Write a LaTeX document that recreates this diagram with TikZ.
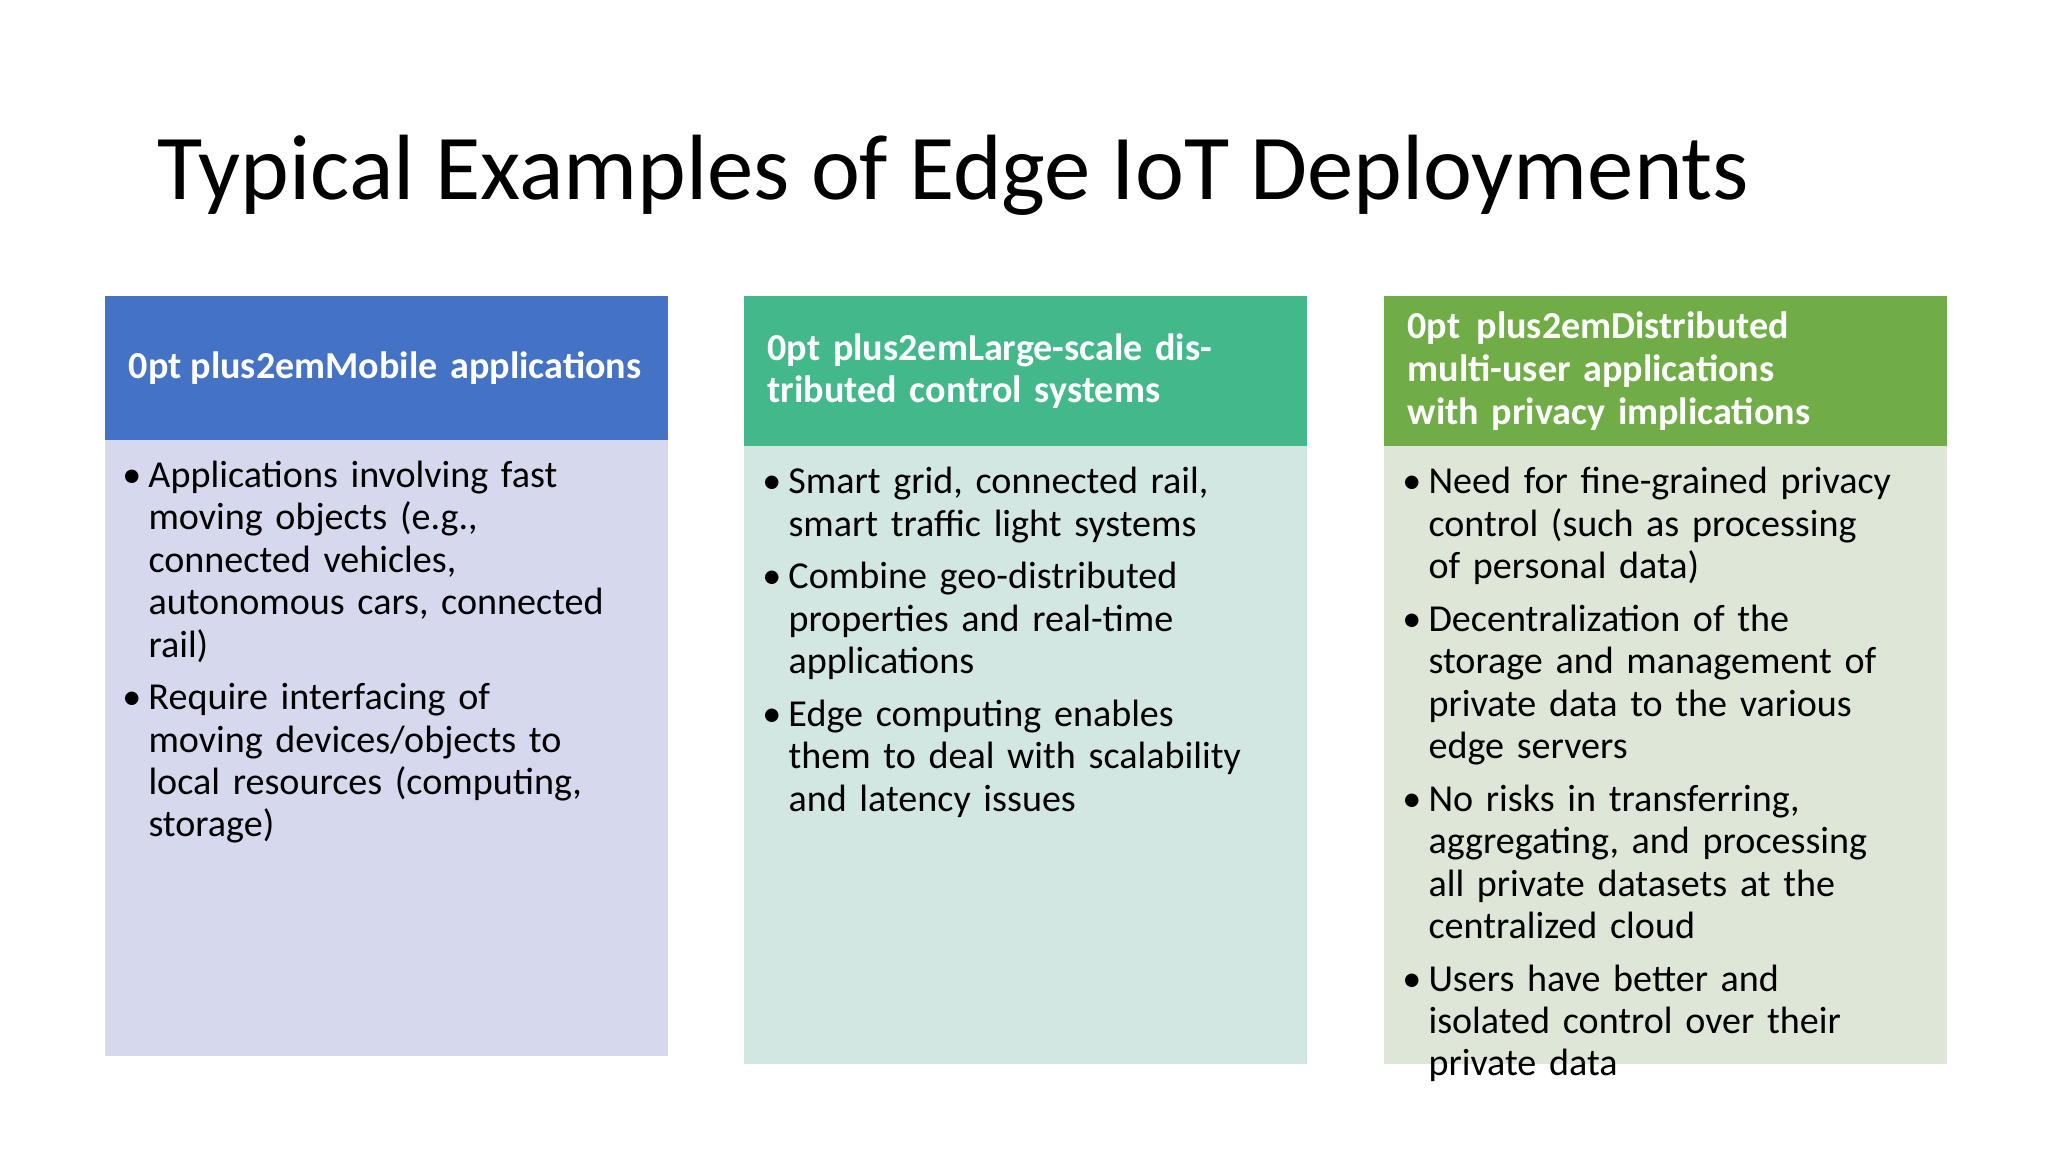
\documentclass[tikz,border=0pt]{standalone}
\usepackage{fontspec}
\setmainfont{Carlito}
\definecolor{hA}{HTML}{4472C4}\definecolor{bA}{HTML}{D6D9EE}
\definecolor{hB}{HTML}{43B98B}\definecolor{bB}{HTML}{D3E7E2}
\definecolor{hC}{HTML}{70AD47}\definecolor{bC}{HTML}{DEE7D7}
\newcommand{\itm}[1]{{\raggedright\hyphenpenalty=10000\exhyphenpenalty=10000\hangindent=0.2cm\hangafter=1\noindent\makebox[0.2cm][l]{\textbullet}#1\par}\vspace{2.2pt}}
\tikzset{hdr/.style={anchor=north west,minimum width=4.31cm,text width=3.95cm,align=center,text=white,font=\fontsize{8.3}{9.3}\selectfont\bfseries\hyphenpenalty=10000,inner sep=0pt},
bdy/.style={anchor=north west,minimum width=4.31cm,inner sep=0pt},
txt/.style={anchor=north west,text width=3.75cm,inner sep=0pt,font=\fontsize{8.3}{9.25}\selectfont}}
\begin{document}
\begin{tikzpicture}
\useasboundingbox[fill=white] (0,0) rectangle (15.68,-8.82);
\node[anchor=base west,inner sep=0pt,font=\fontsize{20.2}{24}\selectfont] (title) at (1.2,-1.53) {Typical Examples of Edge IoT Deployments};
\node[bdy,fill=bA,minimum height=4.72cm] (b1) at (0.80,-3.36) {};
\node[hdr,fill=hA,minimum height=1.10cm] (h1) at (0.80,-2.26) {Mobile applications};
\node[bdy,fill=bB,minimum height=4.73cm] (b2) at (5.69,-3.41) {};
\node[hdr,fill=hB,minimum height=1.15cm] (h2) at (5.69,-2.26) {Large-scale distributed control systems};
\node[bdy,fill=bC,minimum height=4.73cm] (b3) at (10.59,-3.41) {};
\node[hdr,fill=hC,minimum height=1.15cm] (h3) at (10.59,-2.26) {Distributed multi-user applications with privacy implications};
\node[txt] (t1) at (0.93,-3.52) {\itm{Applications involving fast moving objects (e.g., connected vehicles, autonomous cars, connected rail)}\itm{Require interfacing of moving devices/objects to local resources (computing, storage)}};
\node[txt] (t2) at (5.83,-3.57) {\itm{Smart grid, connected rail, smart traffic light systems}\itm{Combine geo-distributed properties and real-time applications}\itm{Edge computing enables them to deal with scalability and latency issues}};
\node[txt] (t3) at (10.73,-3.57) {\itm{Need for fine-grained privacy control (such as processing of personal data)}\itm{Decentralization of the storage and management of private data to the various edge servers}\itm{No risks in transferring, aggregating, and processing all private datasets at the centralized cloud}\itm{Users have better and isolated control over their private data}};
\end{tikzpicture}
\end{document}
